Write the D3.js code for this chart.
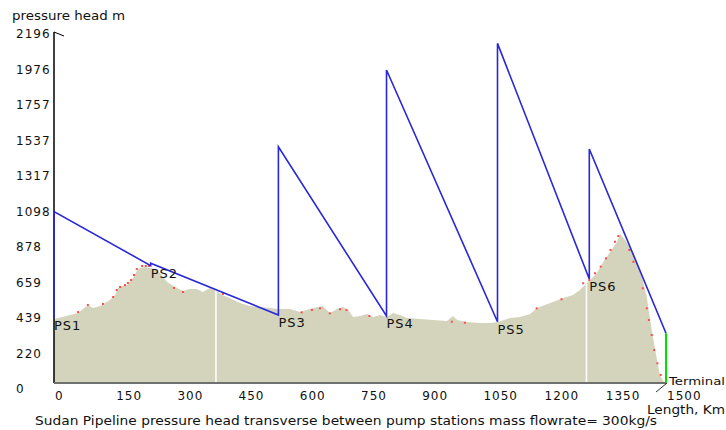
<!DOCTYPE html>
<html><head><meta charset="utf-8">
<script src="https://cdn.jsdelivr.net/npm/d3@7"></script>
<style>
html,body{margin:0;padding:0;background:#fff;}
svg{display:block;}
text{font-family:"DejaVu Sans",Verdana,sans-serif;fill:#111;}
</style></head>
<body>
<svg id="c" width="726" height="430"></svg>
<script>
// ---- data ----
const yTicks = [0, 220, 439, 659, 878, 1098, 1317, 1537, 1757, 1976, 2196];
const xTicks = [0, 150, 300, 450, 600, 750, 900, 1050, 1200, 1350, 1500];
// terrain profile: km, elevation m
const terrainKm = [0,20,39,59,83,96,113,137,150,157,167,179,186,194,203,211,223,235,248,260,277,297,316,333,350,365,382,397,412,431,456,480,505,529,549,578,603,627,647,659,676,694,708,721,733,750,767,782,799,816,831,848,865,897,929,963,978,988,1012,1044,1069,1088,1118,1142,1167,1184,1203,1223,1248,1272,1289,1306,1314,1331,1346,1363,1380,1387,1400,1412,1429,1443,1453,1461,1468,1478,1485,1493,1500];
const terrainM  = [433,445,458,470,520,501,513,551,581,625,637,643,662,687,730,748,755,748,742,718,662,631,606,619,619,600,625,612,581,563,532,513,507,501,495,495,476,495,507,513,470,495,507,489,445,452,464,445,458,445,470,458,439,433,427,421,452,427,414,408,408,414,439,445,464,501,520,538,563,581,612,656,674,718,786,847,909,959,922,872,786,674,569,427,322,179,87,49,37];
// hydraulic grade line (pressure head), km and m
const headKm = [0, 0, 237, 237, 550, 550, 815, 815, 1087, 1087, 1312, 1312, 1500];
const headM  = [439, 1098, 763, 778, 458, 1498, 452, 1973, 416, 2138, 680, 1485, 345];
// pump stations: name, km, suction head m
const stationNames = ["PS1","PS2","PS3","PS4","PS5","PS6"];
const stationKm    = [0, 237, 550, 815, 1087, 1312];
const stationHead  = [439, 763, 458, 452, 416, 680];
// terminal
const terminalKm = 1500;
const terminalHead = 345;
// red sample marks on the profile
const dotKm = [59,83,120,145,154,162,174,181,189,196,203,216,225,233,294,316,414,607,632,652,676,701,717,773,975,1007,1183,1244,1297,1312,1326,1340,1353,1364,1375,1383,1410,1420,1443,1453,1458,1465,1471,1479,1487];
const dotM  = [476,520,526,569,612,631,643,656,674,705,742,761,761,761,625,600,588,474,489,499,468,493,489,452,416,410,499,555,654,674,716,757,808,860,911,946,860,787,623,499,427,334,241,159,87];
// white markers in the profile
const whiteKm = [397, 1305];
const whiteTop = [612, 650];
const caption = "Sudan Pipeline pressure head transverse between pump stations mass flowrate= 300kg/s";

// ---- scales ----
const svg = d3.select("#c");
const x = d3.scaleLinear().domain([0, 1500]).range([54, 666]);
const y = d3.scaleLinear().domain([0, 2196]).range([389, 34]);
const axisY = 383;

// terrain
const terr = terrainKm.map((k, i) => [k, terrainM[i]]);
svg.append("path")
  .attr("d", d3.area().x(d => x(d[0])).y0(axisY).y1(d => y(d[1]))(terr))
  .attr("fill", "#d4d4bd");

// white markers
svg.selectAll("line.wm").data(whiteKm).enter().append("line")
  .attr("x1", d => x(d)).attr("x2", d => x(d))
  .attr("y1", (d, i) => y(whiteTop[i])).attr("y2", axisY)
  .attr("stroke", "#ffffff").attr("stroke-width", 1.5);

// red dots
svg.selectAll("rect.dot").data(dotKm).enter().append("rect")
  .attr("x", d => x(d) - 1).attr("y", (d, i) => y(dotM[i]) - 1)
  .attr("width", 2).attr("height", 2).attr("fill", "#ff4a4a");

// y axis
svg.append("line").attr("x1", 54).attr("x2", 54).attr("y1", 32).attr("y2", axisY)
  .attr("stroke", "#000").attr("stroke-width", 1.5);
svg.append("line").attr("x1", 54).attr("x2", 64).attr("y1", 32).attr("y2", 36)
  .attr("stroke", "#000").attr("stroke-width", 1);
// x axis
svg.append("line").attr("x1", 54).attr("x2", 667).attr("y1", axisY).attr("y2", axisY)
  .attr("stroke", "#707070").attr("stroke-width", 2);
svg.append("line").attr("x1", 667).attr("x2", 656).attr("y1", axisY).attr("y2", 392)
  .attr("stroke", "#333").attr("stroke-width", 1);

// head line
const head = headKm.map((k, i) => [k, headM[i]]);
svg.append("path")
  .attr("d", d3.line().x(d => x(d[0])).y(d => y(d[1]))(head))
  .attr("fill", "none").attr("stroke", "#2828d8").attr("stroke-width", 1.6);
// terminal green
svg.append("line").attr("x1", x(terminalKm)).attr("x2", x(terminalKm))
  .attr("y1", y(terminalHead)).attr("y2", axisY)
  .attr("stroke", "#00e000").attr("stroke-width", 2);

// y tick labels
svg.selectAll("text.yt").data(yTicks).enter().append("text")
  .attr("x", 16).attr("y", d => y(d)).attr("dy", "0.36em")
  .style("font-size", "12px").style("letter-spacing", "1px")
  .text(d => d);
// x tick labels
svg.selectAll("text.xt").data(xTicks).enter().append("text")
  .attr("x", d => x(d) + 1).attr("y", 396).attr("dy", "0.36em")
  .style("font-size", "12px").style("letter-spacing", "1px")
  .text(d => d);

// station labels
svg.selectAll("text.ps").data(stationNames).enter().append("text")
  .attr("x", (d, i) => x(stationKm[i])).attr("y", (d, i) => y(stationHead[i]) + 12)
  .style("font-size", "13px").style("letter-spacing", "1px")
  .text(d => d);

// titles
svg.append("text").attr("x", 12).attr("y", 16).attr("dy", "0.36em")
  .style("font-size", "12px").attr("textLength", 113).attr("lengthAdjust", "spacingAndGlyphs")
  .text("pressure head m");
svg.append("text").attr("x", 669).attr("y", 381).attr("dy", "0.36em")
  .style("font-size", "11px").attr("textLength", 56).attr("lengthAdjust", "spacingAndGlyphs")
  .text("Terminal");
svg.append("text").attr("x", 647).attr("y", 410).attr("dy", "0.36em")
  .style("font-size", "12px").attr("textLength", 78).attr("lengthAdjust", "spacingAndGlyphs")
  .text("Length, Km");
svg.append("text").attr("x", 35).attr("y", 421).attr("dy", "0.36em")
  .style("font-size", "12px").attr("textLength", 622).attr("lengthAdjust", "spacingAndGlyphs")
  .text(caption);
</script>
</body></html>
